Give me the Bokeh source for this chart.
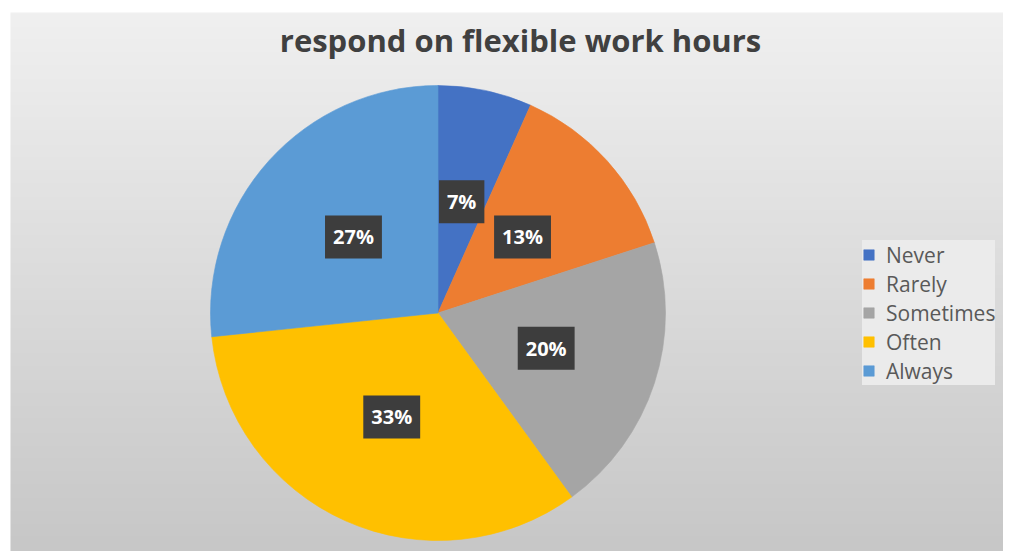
import numpy as np
from math import pi
from bokeh.plotting import figure
from bokeh.models import Range1d, ColumnDataSource, Label, Legend, LegendItem
from bokeh.core.properties import value
from bokeh.embed import file_html
from bokeh.resources import INLINE

# ---- data ----
categories = ["Never", "Rarely", "Sometimes", "Often", "Always"]
counts = [1, 2, 3, 5, 4]
pct_labels = ["7%", "13%", "20%", "33%", "27%"]
colors = ["#4472C4", "#ED7D31", "#A5A5A5", "#FFC000", "#5B9BD5"]
title_text = "respond on flexible work hours"

W, H = 1003, 551
p = figure(width=W, height=H, x_range=Range1d(0, W), y_range=Range1d(0, H),
           output_backend="svg", toolbar_location=None,
           x_axis_location=None, y_axis_location=None, min_border=0)
p.grid.visible = False
p.outline_line_color = None
p.background_fill_color = "white"
p.border_fill_color = "white"

# background gradient (chart area)
n = 256
top = np.array([240, 240, 240], dtype=float)
bot = np.array([199, 199, 199], dtype=float)
t = np.linspace(0, 1, n)[:, None]
rgb = (bot * (1 - t) + top * t).astype(np.uint32)
img = (255 << 24) | (rgb[:, 2] << 16) | (rgb[:, 1] << 8) | rgb[:, 0]
img = img.reshape(n, 1).astype(np.uint32)
p.image_rgba(image=[img], x=10, y=0, dw=W - 10, dh=H - 12)

# pie
cx, cy, r = 437.5, 238.5, 227.5
vals = np.array(counts, dtype=float)
frac = vals / vals.sum()
cum = np.concatenate([[0], np.cumsum(frac)])
start = pi / 2 - cum[1:] * 2 * pi
end = pi / 2 - cum[:-1] * 2 * pi
mid = pi / 2 - (cum[:-1] + cum[1:]) / 2 * 2 * pi
src = ColumnDataSource(dict(cat=categories, start=start, end=end, color=colors,
                            lx=cx + 0.5 * r * np.cos(mid), ly=cy + 0.5 * r * np.sin(mid),
                            lab=pct_labels))
items = []
for i, c in enumerate(categories):
    rr = p.wedge(x=cx, y=cy, radius=r, start_angle=start[i], end_angle=end[i],
                 fill_color=colors[i], line_color=colors[i], line_width=0.6)
    items.append(LegendItem(label=c, renderers=[rr]))

p.text(x="lx", y="ly", text="lab", source=src, text_align="center",
       text_baseline="middle", text_color="white", text_font=value("Open Sans"),
       text_font_style="bold", text_font_size="20px",
       background_fill_color="#3d3d3d", padding=8)

title = Label(x=520, y=512, text=title_text, text_align="center",
              text_baseline="middle", text_font="Open Sans", text_font_style="bold",
              text_font_size="31px", text_color="#404040")
p.add_layout(title)

legend = Legend(items=items, location=(862, 166), orientation="vertical",
                background_fill_color="#ebebeb", background_fill_alpha=1,
                border_line_color=None, padding=2, spacing=0, margin=0,
                glyph_width=13, glyph_height=13, label_height=29,
                label_standoff=11, label_text_font="Open Sans",
                label_text_font_size="21px", label_text_color="#595959")
p.add_layout(legend)

open("out.html", "w").write(file_html(p, INLINE))
